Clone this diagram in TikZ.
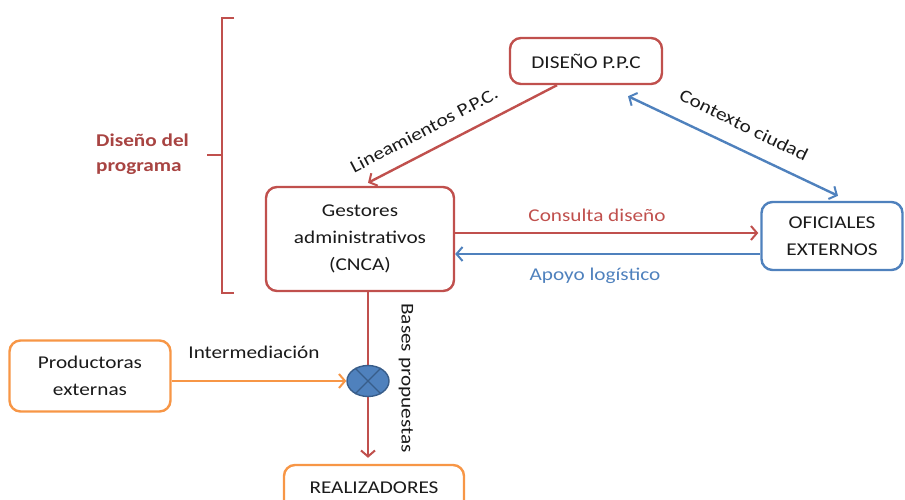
\documentclass[tikz,border=0pt]{standalone}
\usepackage{fontspec}
\setmainfont{Carlito}[FakeStretch=1.18]
\usetikzlibrary{arrows.meta,shapes.geometric,calc}
\definecolor{cred}{HTML}{C0504D}
\definecolor{cblue}{HTML}{4F81BD}
\definecolor{corange}{HTML}{F79646}
\definecolor{cdblue}{HTML}{385D8A}
\definecolor{cbrace}{HTML}{A84442}
\definecolor{ctext}{HTML}{1A1A1A}
\begin{document}
\begin{tikzpicture}[x=1pt,y=-1pt,
  font=\fontsize{18}{22}\selectfont,
  box/.style={draw,line width=2.4pt,rounded corners=11pt,fill=white,align=center,text=ctext,inner sep=0pt},
  redbox/.style={box,draw=cred},
  bluebox/.style={box,draw=cblue},
  orangebox/.style={box,draw=corange},
  barb/.tip={Straight Barb[length=6pt,width=14pt,line width=2pt]},
  tip/.style={-barb},
  conn/.style={line width=2.4pt},
  lbl/.style={text=ctext,inner sep=0pt}]
\useasboundingbox (0,0) rectangle (905,500);
\node[redbox,minimum width=152pt,minimum height=46pt] (dis) at (586,61) {DISEÑO P.P.C};
\node[redbox,minimum width=188pt,minimum height=104pt,font=\fontsize{18}{27}\selectfont] (ges) at (360,239) {Gestores\\administrativos\\(CNCA)};
\node[bluebox,minimum width=141pt,minimum height=68pt,font=\fontsize{18}{27}\selectfont] (ofi) at (832,236) {OFICIALES\\EXTERNOS};
\node[orangebox,minimum width=161pt,minimum height=71pt,font=\fontsize{18}{27}\selectfont] (pro) at (90,376) {Productoras\\externas};
\node[orangebox,minimum width=180pt,minimum height=46pt] (rea) at (374,488) {REALIZADORES};
% vertical red flow
\coordinate (vtop) at ([xshift=8pt]ges.south);
\node[ellipse,minimum width=42pt,minimum height=31pt,inner sep=0pt] (cir) at (368,381) {};
\draw[conn,cred,tip,shorten >=6pt] (vtop) -- (vtop |- rea.north);
\node[ellipse,draw=cdblue,fill=cblue,line width=1.4pt,minimum width=42pt,minimum height=31pt,inner sep=0pt] (cir2) at (cir) {};
\draw[cdblue,line width=1.4pt] (cir2.45) -- (cir2.225) (cir2.135) -- (cir2.315);
\node[lbl,rotate=-90] (bases) at (406,378) {Bases propuestas};
% intermediacion
\draw[conn,corange,tip] (pro.east |- cir2.west) -- (cir2.west);
\node[lbl] (inter) at (254,352) {Intermediación};
% lineamientos
\coordinate (la) at ([xshift=-29pt]dis.south);
\coordinate (lb) at ([xshift=8pt,yshift=3pt]ges.north);
\draw[conn,cred,tip] (la) -- (lb);
\node[lbl,rotate=27.6] (linl) at (424,130) {Lineamientos P.P.C.};
% contexto
\coordinate (ca) at ([xshift=42pt,yshift=-11pt]dis.south);
\coordinate (cb) at ([xshift=6pt,yshift=5pt]ofi.north);
\draw[conn,cblue,barb-barb] (ca) -- (cb);
\node[lbl,rotate=-26] (ctxl) at (744,125) {Contexto ciudad};
% consulta / apoyo
\coordinate (c1) at ([yshift=6pt]ges.east);
\draw[conn,cred,tip,shorten >=2pt] (c1) -- (c1 -| ofi.west);
\node[lbl,text=cred] (consl) at (597,215) {Consulta diseño};
\coordinate (a1) at ([yshift=-15pt]ges.east);
\draw[conn,cblue,tip] (a1 -| ofi.west) -- (a1);
\node[lbl,text=cblue] (apol) at (595,276) {Apoyo logístico};
% brace
\draw[cred,line width=2.4pt] (234,18) -- (222,18) -- (222,293) -- (234,293);
\draw[cred,line width=2.4pt] (222,155) -- (207,155);
\node[text=cbrace,font=\bfseries\fontsize{18}{25}\selectfont,align=left,anchor=west,inner sep=0pt] (dlab) at (96,154) {Diseño del\\programa};
\end{tikzpicture}
\end{document}
